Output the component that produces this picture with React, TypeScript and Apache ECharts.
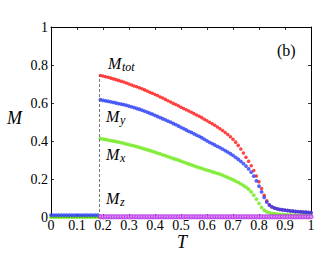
import React, { useEffect, useRef } from "react";
import * as echarts from "echarts";

const temps = [
  0.0, 0.01, 0.02, 0.03, 0.04, 0.05, 0.06, 0.07, 0.08, 0.09,
  0.1, 0.11, 0.12, 0.13, 0.14, 0.15, 0.16, 0.17, 0.18, 0.19,
  0.2, 0.21, 0.22, 0.23, 0.24, 0.25, 0.26, 0.27, 0.28, 0.29,
  0.3, 0.31, 0.32, 0.33, 0.34, 0.35, 0.36, 0.37, 0.38, 0.39,
  0.4, 0.41, 0.42, 0.43, 0.44, 0.45, 0.46, 0.47, 0.48, 0.49,
  0.5, 0.51, 0.52, 0.53, 0.54, 0.55, 0.56, 0.57, 0.58, 0.59,
  0.6, 0.61, 0.62, 0.63, 0.64, 0.65, 0.66, 0.67, 0.68, 0.69,
  0.7, 0.71, 0.72, 0.73, 0.74, 0.75, 0.76, 0.77, 0.78, 0.79,
  0.8, 0.81, 0.82, 0.83, 0.84, 0.85, 0.86, 0.87, 0.88, 0.89,
  0.9, 0.91, 0.92, 0.93, 0.94, 0.95, 0.96, 0.97, 0.98, 0.99, 1.0,
];

// index 0..18 : T < 0.19 (low-T phase)
const mTot = [
  null, null, null, null, null, null, null, null, null, null,
  null, null, null, null, null, null, null, null, null, 0.745,
  0.742, 0.738, 0.735, 0.731, 0.727, 0.723, 0.719, 0.714, 0.71, 0.705,
  0.7, 0.695, 0.69, 0.685, 0.68, 0.675, 0.669, 0.663, 0.657, 0.651,
  0.645, 0.639, 0.632, 0.626, 0.619, 0.612, 0.605, 0.598, 0.592, 0.585,
  0.578, 0.571, 0.565, 0.558, 0.551, 0.544, 0.537, 0.53, 0.523, 0.515,
  0.507, 0.499, 0.491, 0.483, 0.474, 0.465, 0.455, 0.445, 0.434, 0.422,
  0.409, 0.394, 0.377, 0.358, 0.337, 0.315, 0.293, 0.27, 0.245, 0.216,
  0.185, 0.15, 0.115, 0.085, 0.064, 0.053, 0.047, 0.043, 0.04, 0.038,
  0.036, 0.034, 0.032, 0.031, 0.029, 0.028, 0.027, 0.026, 0.025, 0.024, 0.023,
];

const mY = [
  0.01, 0.01, 0.01, 0.01, 0.01, 0.01, 0.01, 0.01, 0.01, 0.01,
  0.01, 0.01, 0.01, 0.01, 0.01, 0.01, 0.01, 0.01, 0.01, 0.617,
  0.614, 0.611, 0.609, 0.606, 0.603, 0.6, 0.597, 0.594, 0.591, 0.588,
  0.584, 0.58, 0.576, 0.571, 0.567, 0.562, 0.557, 0.552, 0.546, 0.541,
  0.535, 0.529, 0.523, 0.517, 0.511, 0.505, 0.499, 0.492, 0.486, 0.479,
  0.472, 0.465, 0.458, 0.451, 0.445, 0.438, 0.431, 0.424, 0.417, 0.409,
  0.401, 0.393, 0.386, 0.379, 0.372, 0.365, 0.357, 0.349, 0.341, 0.333,
  0.324, 0.314, 0.304, 0.293, 0.281, 0.268, 0.253, 0.236, 0.215, 0.19,
  0.162, 0.132, 0.103, 0.078, 0.062, 0.053, 0.047, 0.043, 0.04, 0.038,
  0.036, 0.034, 0.032, 0.031, 0.029, 0.028, 0.027, 0.026, 0.025, 0.024, 0.023,
];

const mX = [
  0.0, 0.0, 0.0, 0.0, 0.0, 0.0, 0.0, 0.0, 0.0, 0.0,
  0.0, 0.0, 0.0, 0.0, 0.0, 0.0, 0.0, 0.0, 0.0, 0.413,
  0.41, 0.408, 0.405, 0.402, 0.4, 0.397, 0.394, 0.391, 0.388, 0.384,
  0.381, 0.377, 0.374, 0.37, 0.366, 0.362, 0.358, 0.354, 0.35, 0.345,
  0.341, 0.336, 0.332, 0.327, 0.323, 0.318, 0.313, 0.308, 0.304, 0.299,
  0.294, 0.289, 0.284, 0.279, 0.274, 0.269, 0.264, 0.26, 0.256, 0.251,
  0.247, 0.243, 0.238, 0.234, 0.23, 0.226, 0.22, 0.214, 0.208, 0.202,
  0.196, 0.189, 0.182, 0.174, 0.166, 0.157, 0.146, 0.132, 0.115, 0.094,
  0.072, 0.051, 0.036, 0.027, 0.022, 0.019, 0.017, 0.015, 0.014, 0.013,
  0.012, 0.011, 0.011, 0.01, 0.01, 0.009, 0.009, 0.009, 0.008, 0.008, 0.008,
];

const mZ = [
  null, null, null, null, null, null, null, null, null, null,
  null, null, null, null, null, null, null, null, null, 0.001,
  0.001, 0.001, 0.001, 0.001, 0.001, 0.001, 0.001, 0.001, 0.001, 0.001,
  0.001, 0.001, 0.001, 0.001, 0.001, 0.001, 0.001, 0.001, 0.001, 0.001,
  0.001, 0.001, 0.001, 0.001, 0.001, 0.001, 0.001, 0.001, 0.001, 0.001,
  0.001, 0.001, 0.001, 0.001, 0.001, 0.001, 0.001, 0.001, 0.001, 0.001,
  0.001, 0.001, 0.001, 0.001, 0.001, 0.001, 0.001, 0.001, 0.001, 0.001,
  0.001, 0.001, 0.001, 0.001, 0.001, 0.001, 0.001, 0.001, 0.001, 0.001,
  0.001, 0.001, 0.001, 0.001, 0.001, 0.001, 0.001, 0.001, 0.001, 0.001,
  0.001, 0.001, 0.001, 0.001, 0.001, 0.001, 0.001, 0.001, 0.001, 0.001, 0.001,
];

const transitionT = 0.187;
const transitionM = 0.745;

const FONT = "'Liberation Serif', 'DejaVu Serif', serif";

function pairs(vals: (number | null)[]) {
  const out: number[][] = [];
  vals.forEach((v, i) => {
    if (v !== null) out.push([temps[i], v]);
  });
  return out;
}

function subLabel(x: number, y: number, main: string, sub: string, subDx: number) {
  return {
    type: "group",
    children: [
      {
        type: "text",
        x,
        y,
        style: { text: main, font: `italic 16px ${FONT}`, fill: "#000" },
      },
      {
        type: "text",
        x: x + subDx,
        y: y + 6,
        style: { text: sub, font: `italic 12px ${FONT}`, fill: "#000" },
      },
    ],
  };
}

export default function App() {
  const ref = useRef<HTMLDivElement>(null);
  useEffect(() => {
    if (!ref.current) return;
    const chart = echarts.init(ref.current, null, { renderer: "svg" });
    const axisCommon = {
      type: "value",
      min: 0,
      max: 1,
      axisLine: { show: true, onZero: false, lineStyle: { color: "#000", width: 1 } },
      axisTick: { show: true, inside: true, length: 3, lineStyle: { color: "#000", width: 0.8 } },
      splitLine: { show: false },
    };
    chart.setOption({
      animation: false,
      backgroundColor: "#fff",
      grid: { left: 51, top: 27, right: 16, bottom: 36, containLabel: false },
      xAxis: [
        {
          ...axisCommon,
          position: "bottom",
          interval: 0.1,
          axisLabel: { color: "#000", fontFamily: FONT, fontSize: 14, margin: 1 },
        },
        {
          ...axisCommon,
          position: "top",
          interval: 0.1,
          axisLabel: { show: false },
        },
      ],
      yAxis: [
        {
          ...axisCommon,
          position: "left",
          interval: 0.2,
          axisLabel: { color: "#000", fontFamily: FONT, fontSize: 14, margin: 3 },
        },
        {
          ...axisCommon,
          position: "right",
          interval: 0.2,
          axisLabel: { show: false },
        },
      ],
      series: [
        {
          type: "scatter",
          name: "Mtot",
          data: pairs(mTot),
          symbol: "circle",
          symbolSize: 3.5,
          z: 2,
          itemStyle: { color: "#ff1414" },
          markLine: {
            silent: true,
            symbol: "none",
            label: { show: false },
            lineStyle: { color: "#555", width: 0.8, type: [3, 2] },
            data: [[{ coord: [transitionT, 0] }, { coord: [transitionT, transitionM] }]],
          },
        },
        {
          type: "scatter",
          name: "Mx",
          data: pairs(mX),
          symbol: "circle",
          symbolSize: 3.8,
          z: 3,
          itemStyle: { color: "#6ee81a" },
        },
        {
          type: "scatter",
          name: "My",
          data: pairs(mY),
          symbol: "circle",
          symbolSize: 3.8,
          z: 4,
          itemStyle: { color: "#2a3cf5" },
        },
        {
          type: "scatter",
          name: "Mz",
          data: pairs(mZ),
          symbol: "circle",
          symbolSize: 4,
          z: 5,
          itemStyle: { color: "#e49cff", borderColor: "#b830e8", borderWidth: 1.2 },
        },
      ],
      graphic: [
        subLabel(108, 55, "M", "tot", 14),
        subLabel(106, 108, "M", "y", 14),
        subLabel(106, 146, "M", "x", 14),
        subLabel(106, 190, "M", "z", 14),
        {
          type: "text",
          x: 277,
          y: 42,
          style: { text: "(b)", font: `16px ${FONT}`, fill: "#000" },
        },
        {
          type: "text",
          x: 7,
          y: 109,
          style: { text: "M", font: `italic 18px ${FONT}`, fill: "#000" },
        },
        {
          type: "text",
          x: 177,
          y: 233,
          style: { text: "T", font: `italic 18px ${FONT}`, fill: "#000" },
        },
      ],
    });
    return () => chart.dispose();
  }, []);
  return (
    <div
      ref={ref}
      style={{ position: "fixed", left: 0, top: 0, width: 327, height: 253 }}
    />
  );
}
